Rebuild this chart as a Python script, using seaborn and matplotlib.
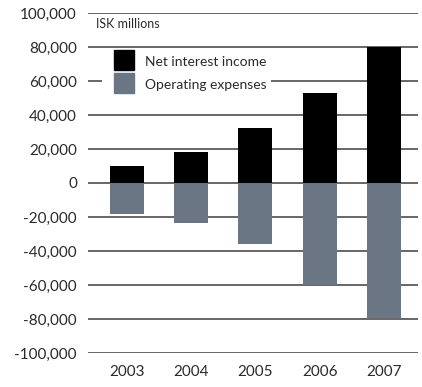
import matplotlib
matplotlib.use("Agg")
import matplotlib.pyplot as plt
from matplotlib.lines import Line2D
from matplotlib.ticker import FuncFormatter
import pandas as pd
import seaborn as sns

years = ["2003", "2004", "2005", "2006", "2007"]
net_interest_income = [10200, 18500, 32600, 52700, 80000]
operating_expenses = [-18500, -23800, -35600, -60200, -79300]
series_names = ["Net interest income", "Operating expenses"]
series_colors = ["#000000", "#6a7683"]
y_ticks = list(range(-100000, 100001, 20000))

df = pd.DataFrame({
    "year": years * 2,
    "value": net_interest_income + operating_expenses,
    "series": [series_names[0]] * len(years) + [series_names[1]] * len(years),
})

sns.set_theme(style="white")
plt.rcParams["font.family"] = ["Lato", "DejaVu Sans"]
text_color = "#2a2a2a"
grid_color = "#5a5a5a"

fig = plt.figure(figsize=(4.22, 3.87), dpi=100)
ax = fig.add_axes([88 / 422, 34 / 387, 330 / 422, 340 / 387])

sns.barplot(data=df, x="year", y="value", hue="series", dodge=False,
            palette=series_colors, width=0.53, saturation=1,
            linewidth=0, edgecolor="none",
            legend=False, ax=ax, zorder=3)

ax.set_ylim(-100000, 100000)
ax.set_xlim(-0.6, 4.53)
ax.set_yticks(y_ticks)
ax.yaxis.set_major_formatter(FuncFormatter(lambda v, _: f"{int(v):,}"))
ax.grid(axis="y", color=grid_color, linewidth=1.3, zorder=0)
ax.set_axisbelow(True)
for s in ax.spines.values():
    s.set_visible(False)
ax.tick_params(axis="both", length=0, labelsize=11, colors=text_color)
ax.tick_params(axis="y", pad=8)
ax.tick_params(axis="x", pad=9)
ax.set_xlabel("")
ax.set_ylabel("")

ax.text(8 / 330, 0.967, "ISK millions",
        transform=ax.transAxes, fontsize=9, color=text_color,
        va="center", ha="left")

handles = [Line2D([], [], linestyle="none", marker="s", markersize=14.4,
                  markerfacecolor=c, markeredgecolor=c)
           for c in series_colors]
leg = ax.legend(handles, series_names, loc="upper left",
                bbox_to_anchor=((101.7 - 88) / 330, (353 - 49) / 340),
                frameon=True, fancybox=False, framealpha=1,
                fontsize=10, borderpad=0.3, handlelength=2.6,
                handleheight=1.5, handletextpad=0.2, labelspacing=0.45,
                borderaxespad=0, labelcolor=text_color)
leg.get_frame().set_facecolor("white")
leg.get_frame().set_edgecolor("none")
leg.set_zorder(2)

fig.savefig("out.png", dpi=100)
